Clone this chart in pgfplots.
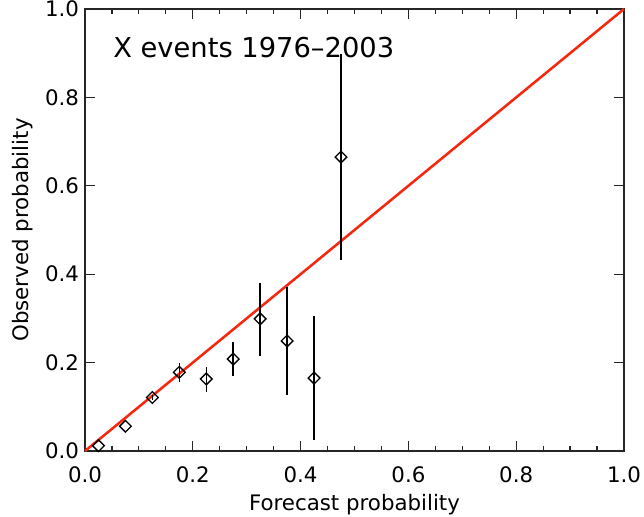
\documentclass[border=0pt]{standalone}
\usepackage{pgfplots}
\pgfplotsset{compat=1.18}
\usepackage{pgfplotstable}
\usepackage{fontspec}
\setmainfont{DejaVu Sans}
\definecolor{diagred}{RGB}{245,40,15}

\pgfplotstableread{
x      y      ep     em
0.025  0.012  0      0
0.075  0.056  0      0
0.125  0.121  0.006  0.006
0.175  0.178  0.022  0.022
0.225  0.163  0.027  0.029
0.275  0.208  0.039  0.038
0.325  0.299  0.082  0.084
0.375  0.249  0.121  0.122
0.425  0.165  0.140  0.140
0.475  0.665  0.234  0.232
}\reliab

\begin{document}
\begin{tikzpicture}
\begin{axis}[
    width=404.25pt, height=331.5pt,
    scale only axis,
    xmin=0, xmax=1, ymin=0, ymax=1,
    xtick={0,0.2,...,1.0}, ytick={0,0.2,...,1.0},
    minor x tick num=3, minor y tick num=0,
    tick align=inside,
    major tick length=7.5pt, minor tick length=3.75pt,
    axis line style={line width=1pt, black!85},
    every tick/.style={line width=0.9pt, black!85},
    tick label style={font=\fontsize{16}{19}\selectfont, /pgf/number format/assume math mode=true},
    xticklabel style={yshift=-8pt},
    yticklabel style={xshift=-1pt},
    /pgf/number format/.cd, fixed, fixed zerofill, precision=1,
    /pgfplots/.cd,
    xlabel={Forecast probability},
    ylabel={Observed probability},
    label style={font=\fontsize{16}{19}\selectfont},
    xlabel style={at={(axis description cs:0.5,-0.1335)}, anchor=base},
    ylabel style={at={(axis description cs:-0.104,0.5)}, anchor=base},
    clip=false,
]
\addplot[diagred, line width=1.9pt] coordinates {(0,0) (1,1)};
\addplot[black, line width=1pt, mark=square, mark size=3.1pt,
    mark options={rotate=45, line width=1pt, solid}, only marks,
    error bars/.cd, y dir=both, y explicit, error mark=none,
    error bar style={line width=1.1pt, black}]
    table[x=x, y=y, y error plus=ep, y error minus=em] {\reliab};
\node[anchor=base west, inner sep=0pt, font=\fontsize{20.5}{24}\selectfont] at (axis cs:0.052,0.891) {X events 1976–2003};
\end{axis}
\pgfresetboundingbox
\path[use as bounding box] ([xshift=-63.75pt,yshift=-49.5pt]current axis.south west) rectangle ([xshift=15pt,yshift=6.75pt]current axis.north east);
\end{tikzpicture}
\end{document}
